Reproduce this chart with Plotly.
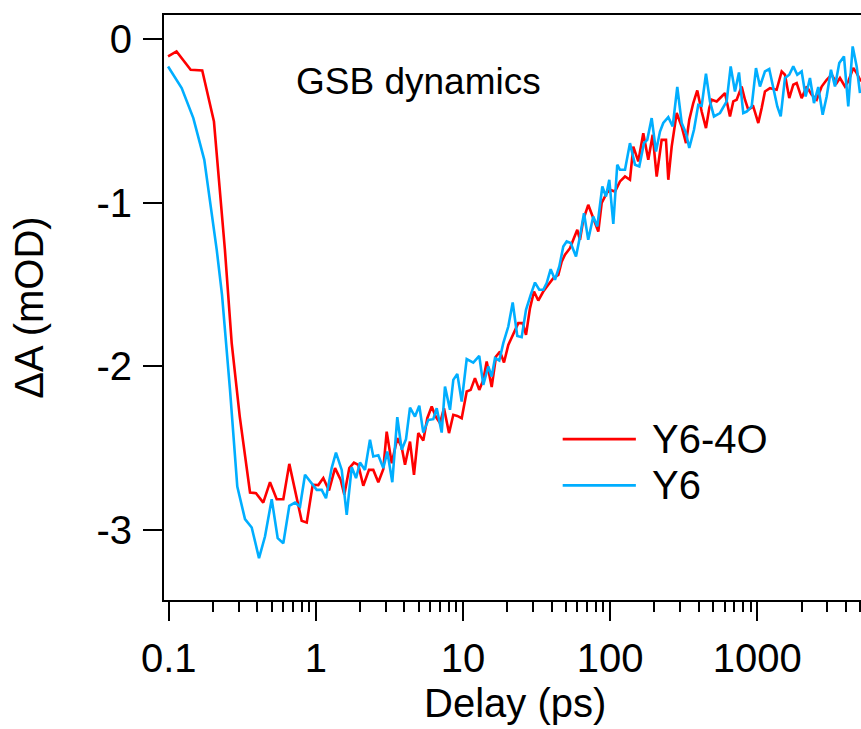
import plotly.graph_objects as go

# ---------------- data ----------------
red_delay = [0.099, 0.113, 0.141, 0.169, 0.203, 0.241, 0.268, 0.304, 0.357, 0.392,
             0.439, 0.488, 0.542, 0.601, 0.660, 0.730, 0.801, 0.867, 0.952, 1.039,
             1.124, 1.229, 1.350, 1.476, 1.561, 1.688, 1.816, 1.943, 2.101, 2.297,
             2.457, 2.658, 2.873, 3.030, 3.278, 3.577, 3.832, 4.036, 4.364, 4.645,
             4.968, 5.373, 5.720, 6.129, 6.524, 6.978, 7.428, 8.035, 8.594, 9.149,
             9.80, 10.60, 11.28, 12.06, 12.90, 13.74, 14.49, 15.67, 16.76, 17.85,
             19.00, 20.32, 21.98, 23.76, 25.45, 26.81, 28.54, 30.38, 32.49, 35.13,
             37.99, 41.09, 44.44, 46.86, 49.34, 53.35, 56.19, 59.81, 62.4, 65.7,
             71.0, 76.8, 83.1, 87.6, 94.8, 99.8, 107.9, 116.7, 126.2, 136.4,
             143.7, 155.4, 168.0, 181.7, 194.6, 207.2, 224.0, 239.7, 248.5, 262.0,
             283.4, 306.4, 327.8, 345.1, 367.4, 391.1, 419.0, 448.1, 471.9, 489.9,
             529.8, 573.0, 603.4, 652.4, 687.1, 724.4, 783.4, 824.9, 868.6, 939.2,
             1016, 1071, 1128, 1220, 1354, 1465, 1542, 1650, 1757, 1853,
             2003, 2166, 2343, 2534, 2740, 2963, 3204, 3464, 3648, 3945,
             4153, 4491, 4737, 5066]
red_dA = [-0.106, -0.076, -0.188, -0.192, -0.504, -1.288, -1.858, -2.307, -2.771, -2.775,
          -2.833, -2.708, -2.812, -2.812, -2.596, -2.775, -2.944, -2.955, -2.724, -2.726,
          -2.683, -2.759, -2.622, -2.694, -2.785, -2.622, -2.588, -2.602, -2.730, -2.633,
          -2.633, -2.708, -2.628, -2.399, -2.592, -2.439, -2.494, -2.602, -2.460, -2.663,
          -2.408, -2.454, -2.317, -2.246, -2.307, -2.347, -2.256, -2.408, -2.296, -2.303,
          -2.317, -2.154, -2.144, -2.072, -2.144, -2.083, -1.971, -2.127, -1.940, -1.910,
          -1.977, -1.869, -1.797, -1.736, -1.736, -1.808, -1.644, -1.543, -1.598, -1.543,
          -1.502, -1.461, -1.441, -1.360, -1.318, -1.278, -1.227, -1.166, -1.227, -1.105,
          -1.013, -1.094, -1.176, -1.002, -0.941, -0.921, -0.932, -0.870, -0.840, -0.860,
          -0.657, -0.748, -0.575, -0.738, -0.585, -0.840, -0.616, -0.616, -0.860, -0.657,
          -0.452, -0.534, -0.636, -0.493, -0.391, -0.314, -0.443, -0.544, -0.422, -0.371,
          -0.381, -0.351, -0.330, -0.473, -0.381, -0.371, -0.290, -0.371, -0.432, -0.412,
          -0.513, -0.422, -0.320, -0.300, -0.310, -0.198, -0.218, -0.361, -0.279, -0.269,
          -0.361, -0.290, -0.340, -0.371, -0.290, -0.249, -0.218, -0.269, -0.238, -0.290,
          -0.259, -0.177, -0.208, -0.259]

blue_delay = [0.099, 0.1225, 0.147, 0.1745, 0.212, 0.2303, 0.261, 0.2925, 0.330, 0.3665,
              0.4109, 0.4512, 0.5012, 0.5504, 0.601, 0.660, 0.7217, 0.7805, 0.844, 0.9372,
              1.0134, 1.096, 1.172, 1.281, 1.370, 1.499, 1.621, 1.753, 1.875, 1.996,
              2.158, 2.333, 2.457, 2.658, 2.873, 3.059, 3.308, 3.577, 3.832, 4.100,
              4.364, 4.719, 5.047, 5.373, 5.810, 6.284, 6.627, 7.167, 7.546, 8.160,
              8.594, 9.149, 9.80, 10.60, 11.75, 12.90, 13.74, 14.86, 15.67, 16.50,
              17.65, 18.79, 20.32, 21.77, 23.39, 25.05, 26.81, 28.85, 30.86, 33.00,
              35.13, 37.06, 39.45, 42.19, 45.13, 48.04, 50.66, 53.93, 58.61, 62.39,
              66.44, 71.0, 76.8, 81.8, 88.5, 93.7, 98.7, 105.1, 111.8, 116.7,
              126.2, 136.4, 147.6, 157.8, 169.8, 178.8, 191.6, 205.0, 218.2, 229.7,
              248.5, 266.2, 286.0, 306.4, 327.8, 345.1, 371.5, 397.2, 419.0, 448.1,
              477.0, 507.7, 557.9, 619.5, 659.6, 705.5, 751.1, 803.4, 847.3, 916.2,
              980.0, 1043, 1128, 1206, 1285, 1368, 1443, 1543, 1650, 1757,
              1870, 2003, 2133, 2281, 2429, 2598, 2783, 2962, 3169, 3374,
              3609, 3884, 4154, 4450, 4738, 4989]
blue_dA = [-0.168, -0.300, -0.483, -0.738, -1.288, -1.563, -2.144, -2.735, -2.934, -2.985,
           -3.172, -3.040, -2.812, -3.050, -3.081, -2.853, -2.833, -2.857, -2.663, -2.714,
           -2.755, -2.755, -2.806, -2.622, -2.527, -2.633, -2.908, -2.616, -2.683, -2.588,
           -2.633, -2.449, -2.551, -2.543, -2.622, -2.521, -2.708, -2.311, -2.510, -2.445,
           -2.252, -2.307, -2.241, -2.405, -2.327, -2.323, -2.256, -2.405, -2.124, -2.266,
           -2.083, -2.046, -2.215, -1.956, -1.977, -1.936, -2.113, -2.001, -2.062, -1.950,
           -1.965, -1.858, -1.757, -1.610, -1.814, -1.822, -1.655, -1.563, -1.488, -1.532,
           -1.532, -1.491, -1.406, -1.471, -1.390, -1.268, -1.237, -1.247, -1.329, -1.207,
           -1.064, -1.227, -1.084, -1.145, -0.901, -0.962, -0.860, -1.129, -0.768, -0.799,
           -0.799, -0.636, -0.768, -0.779, -0.636, -0.616, -0.483, -0.687, -0.565, -0.513,
           -0.477, -0.534, -0.293, -0.513, -0.575, -0.666, -0.554, -0.402, -0.408, -0.212,
           -0.381, -0.473, -0.452, -0.381, -0.167, -0.320, -0.204, -0.452, -0.443, -0.412,
           -0.177, -0.290, -0.198, -0.183, -0.310, -0.412, -0.473, -0.238, -0.218, -0.167,
           -0.218, -0.198, -0.351, -0.238, -0.391, -0.293, -0.463, -0.351, -0.188, -0.290,
           -0.147, -0.106, -0.412, -0.045, -0.167, -0.330]

series_names = ["Y6-4O", "Y6"]
series_colors = ["#FF0000", "#00AEFF"]

x_tickvals = [0.1, 1, 10, 100, 1000]
x_ticktext = ["0.1", "1", "10", "100", "1000"]
x_minor = [m * d for d in (0.1, 1, 10, 100, 1000) for m in range(2, 10)]
y_tickvals = [0, -1, -2, -3]
y_ticktext = ["0", "-1", "-2", "-3"]

FONT = "Liberation Sans, Arial, Helvetica, sans-serif"

fig = go.Figure()
for xs, ys, name, col in [(red_delay, red_dA, series_names[0], series_colors[0]),
                          (blue_delay, blue_dA, series_names[1], series_colors[1])]:
    fig.add_trace(go.Scatter(x=xs, y=ys, mode="lines", name=name,
                             line=dict(color=col, width=2.6), showlegend=False))

# custom legend (long line samples as in the reference)
leg_y = [0.275, 0.196]
for i, (name, col) in enumerate(zip(series_names, series_colors)):
    fig.add_shape(type="line", xref="paper", yref="paper",
                  x0=0.572, x1=0.677, y0=leg_y[i], y1=leg_y[i],
                  line=dict(color=col, width=2.6))
    fig.add_annotation(xref="paper", yref="paper", x=0.697, y=leg_y[i],
                       xanchor="left", yanchor="middle", text=name, showarrow=False,
                       font=dict(family=FONT, size=40, color="black"))

fig.add_annotation(xref="paper", yref="paper", x=0.365, y=0.887,
                   xanchor="center", yanchor="middle", text="GSB dynamics",
                   showarrow=False, font=dict(family=FONT, size=37, color="black"))

# x-axis title placed as in the reference
fig.add_annotation(xref="paper", yref="paper", x=0.504, y=-0.176,
                   xanchor="center", yanchor="middle", text="Delay (ps)",
                   showarrow=False, font=dict(family=FONT, size=40, color="black"))

fig.update_layout(
    width=861, height=729,
    margin=dict(l=164, r=0, t=15, b=129),
    paper_bgcolor="white", plot_bgcolor="white",
    font=dict(family=FONT, size=40, color="black"),
    showlegend=False,
)
fig.update_xaxes(
    type="log", range=[-1.032, 3.705], automargin=False,
    showline=True, linecolor="black", linewidth=2, mirror=True,
    showgrid=False, zeroline=False,
    ticks="outside", ticklen=19, tickwidth=2, tickcolor="black",
    tickmode="array", tickvals=x_tickvals, ticktext=x_ticktext,
    tickfont=dict(family=FONT, size=40),
    ticklabelstandoff=3,
    minor=dict(ticks="outside", ticklen=10, tickwidth=2, tickcolor="black",
               tickmode="array", tickvals=x_minor, showgrid=False),
)
fig.update_yaxes(
    range=[-3.428, 0.147], automargin=False,
    showline=True, linecolor="black", linewidth=2, mirror=False,
    showgrid=False, zeroline=False,
    ticks="outside", ticklen=19, tickwidth=2, tickcolor="black",
    tickmode="array", tickvals=y_tickvals, ticktext=y_ticktext,
    tickfont=dict(family=FONT, size=40),
    ticklabelstandoff=3,
    title=dict(text="ΔA (mOD)", font=dict(family=FONT, size=40), standoff=40),
)

fig.write_html("out.html", config={"displayModeBar": False},
               post_script="document.body.style.margin='0';")
